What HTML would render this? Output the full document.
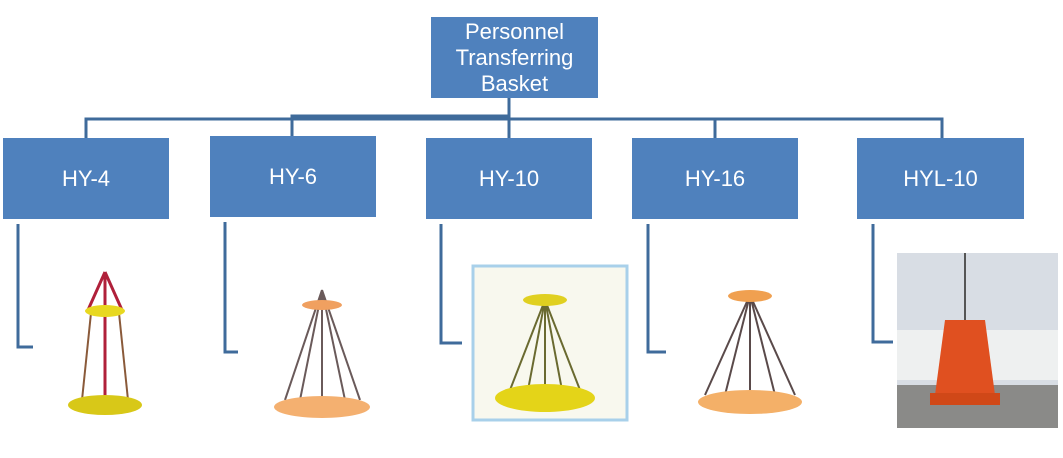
<!DOCTYPE html><html><head><style>
body{margin:0;width:1063px;height:458px;background:#fff;position:relative;overflow:hidden;font-family:"Liberation Sans",sans-serif}
.b{position:absolute;background:#4f81bd;color:#fff;display:flex;align-items:center;justify-content:center;text-align:center;font-size:22px;line-height:26px}
svg{position:absolute;left:0;top:0}
</style></head><body>
<svg width="1063" height="458">
<g stroke="#3f6b9b" stroke-width="3" fill="none">
<path d="M509 98V118M86 138V119H942V138M292 138V116H509M509 119V138M715 119V138"/>
<path d="M18 224V347H33M225 222V352H238M441 224V343H462M648 224V352H666M873 224V342H893"/>
</g>
<!-- HY-4 -->
<g>
<path d="M91 313 L82 400 L128 400 L119 313Z" fill="none" stroke="#8a5a3a" stroke-width="2"/>
<path d="M105 272 L88 310 M105 272 L122 310 M105 272 V400" stroke="#b0203a" stroke-width="3"/>
<ellipse cx="105" cy="311" rx="20" ry="6" fill="#e8d820"/>
<ellipse cx="105" cy="405" rx="37" ry="10" fill="#d8c818"/>
</g>
<!-- HY-6 -->
<g>
<path d="M322 290 L285 400 M322 290 L300 400 M322 290 L322 400 M322 290 L345 400 M322 290 L360 400" stroke="#6a5a5a" stroke-width="2"/>
<ellipse cx="322" cy="305" rx="20" ry="5" fill="#f0a060"/>
<ellipse cx="322" cy="407" rx="48" ry="11" fill="#f4b070"/>
</g>
<!-- HY-10 -->
<rect x="473" y="266" width="154" height="154" fill="#f8f8ee" stroke="#a8d0ea" stroke-width="3"/>
<g>
<path d="M545 300 L510 390 M545 300 L528 390 M545 300 L545 390 M545 300 L562 390 M545 300 L580 390" stroke="#6a6a30" stroke-width="2"/>
<ellipse cx="545" cy="300" rx="22" ry="6" fill="#e0d020"/>
<ellipse cx="545" cy="398" rx="50" ry="14" fill="#e4d418"/>
</g>
<!-- HY-16 -->
<g>
<path d="M750 295 L705 395 M750 295 L725 395 M750 295 L750 395 M750 295 L775 395 M750 295 L795 395" stroke="#5a4a4a" stroke-width="2"/>
<ellipse cx="750" cy="296" rx="22" ry="6" fill="#f0a050"/>
<ellipse cx="750" cy="402" rx="52" ry="12" fill="#f4b068"/>
</g>
<!-- HYL-10 photo -->
<rect x="897" y="253" width="161" height="175" fill="#d8dde4"/>
<rect x="897" y="330" width="161" height="50" fill="#eef0f0"/>
<rect x="897" y="385" width="161" height="43" fill="#8a8a88"/>
<path d="M945 320 L935 395 L995 395 L985 320Z" fill="#e05020"/>
<rect x="930" y="393" width="70" height="12" fill="#d04818"/>
<path d="M965 253V320" stroke="#555" stroke-width="2"/>
</svg>
<div class="b" style="left:431px;top:17px;width:167px;height:81px">Personnel<br>Transferring<br>Basket</div>
<div class="b" style="left:3px;top:138px;width:166px;height:81px">HY-4</div>
<div class="b" style="left:210px;top:136px;width:166px;height:81px">HY-6</div>
<div class="b" style="left:426px;top:138px;width:166px;height:81px">HY-10</div>
<div class="b" style="left:632px;top:138px;width:166px;height:81px">HY-16</div>
<div class="b" style="left:857px;top:138px;width:167px;height:81px">HYL-10</div>
</body></html>
